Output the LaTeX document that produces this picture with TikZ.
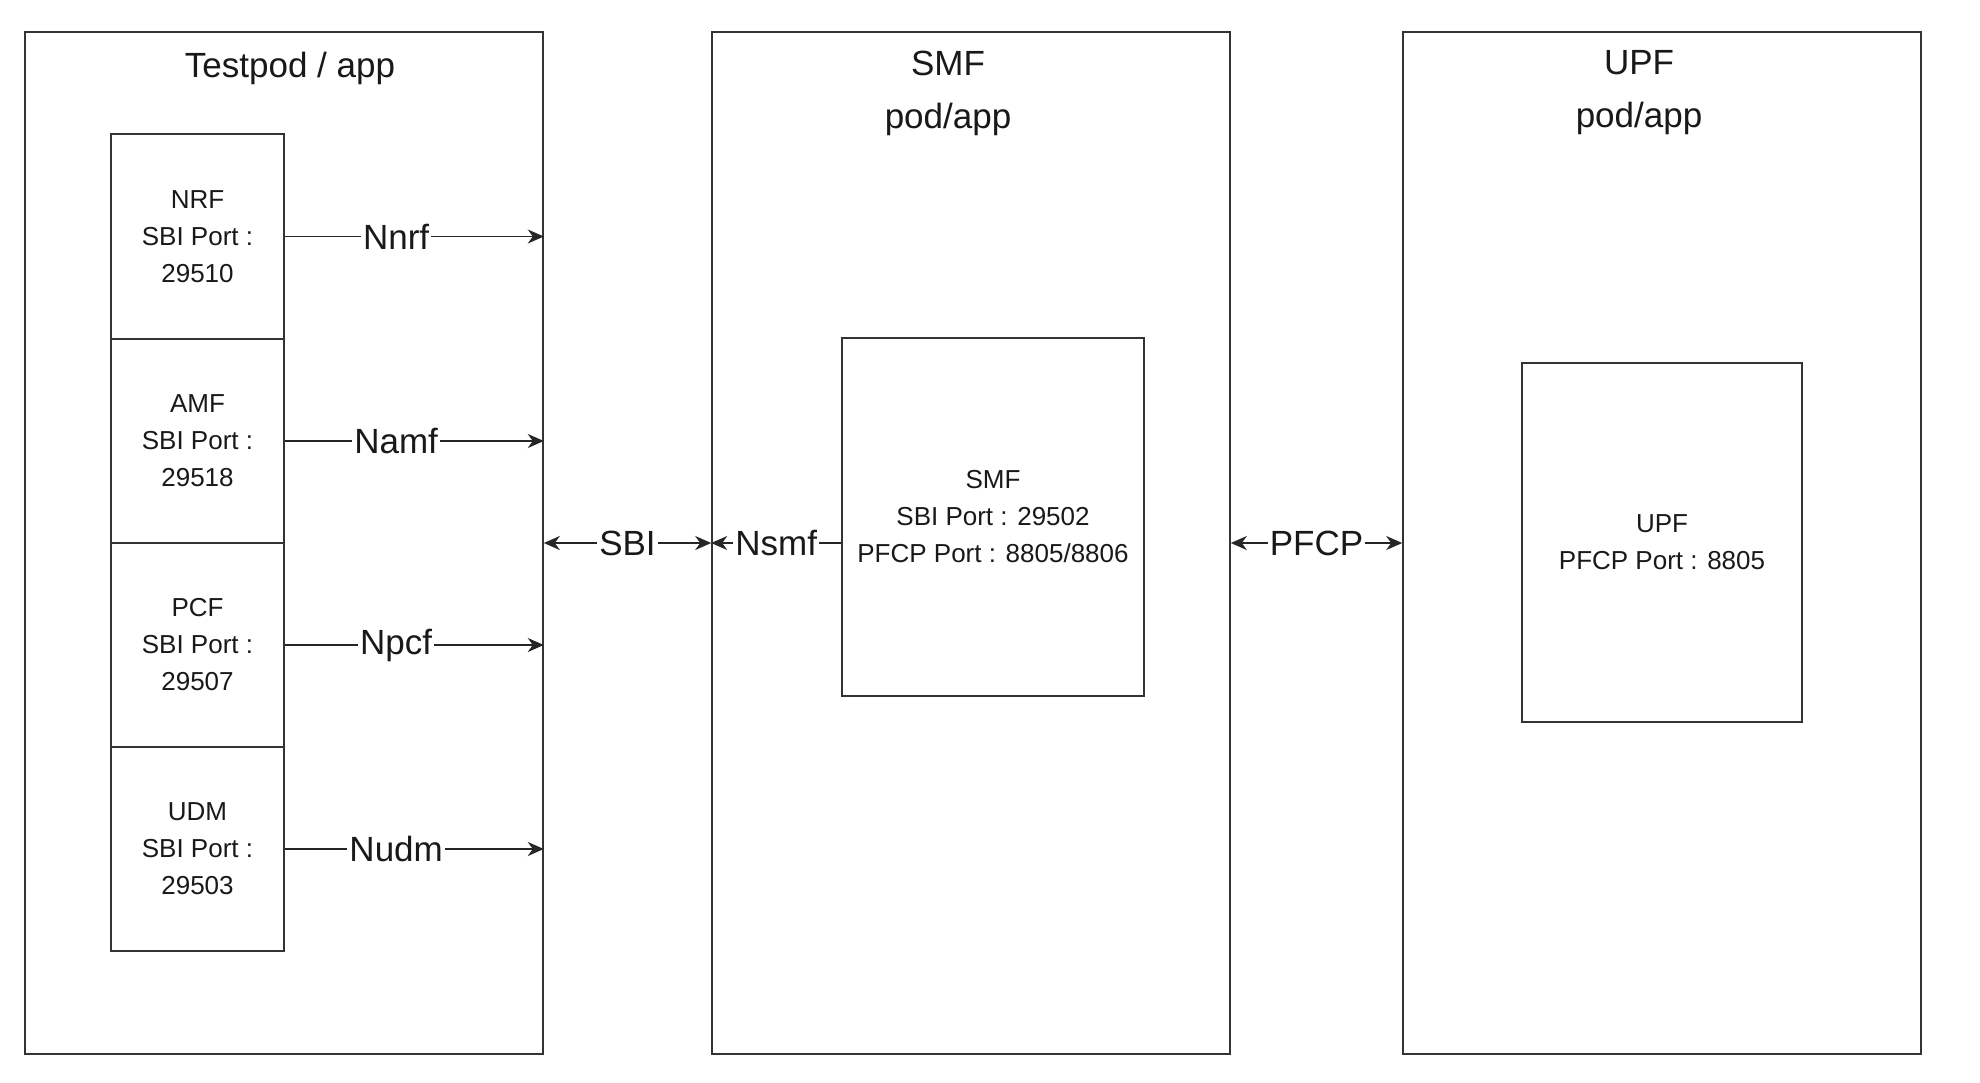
\documentclass[tikz,border=0pt]{standalone}
\usepackage{fontspec}
\setmainfont{Liberation Sans}
\usetikzlibrary{arrows.meta}
\begin{document}
\begin{tikzpicture}[x=0.5pt,y=-0.5pt,
  box/.style={draw=black!80, line width=0.8pt, rectangle, inner sep=0pt, anchor=center},
  title/.style={font=\fontsize{17.5pt}{26.5pt}\selectfont, align=center, text=black!90, inner sep=0pt},
  inner/.style={font=\fontsize{13pt}{18.5pt}\selectfont, align=center, text=black!90},
  tip/.style={Stealth[length=8pt,width=7pt,inset=2.5pt]},
  arr/.style={draw=black!85, line width=0.9pt, -{Stealth[length=8pt,width=7pt,inset=2.5pt]}},
  darr/.style={draw=black!85, line width=0.9pt, {Stealth[length=8pt,width=7pt,inset=2.5pt]}-{Stealth[length=8pt,width=7pt,inset=2.5pt]}},
  lbl/.style={font=\fontsize{17.5pt}{20pt}\selectfont, fill=white, inner sep=1pt, text=black!90}
]
\useasboundingbox[fill=white] (0,0) rectangle (1980,1082);

% outer boxes
\node[box, minimum width=259pt, minimum height=511pt] (testpod) at (284,543) {};
\node[box, minimum width=259pt, minimum height=511pt] (smf) at (971,543) {};
\node[box, minimum width=259pt, minimum height=511pt] (upf) at (1662,543) {};

% titles
\node[title] (ttest) at (290,68) {Testpod / app};
\node[title] (tsmf) at (948,93) {SMF\\pod/app};
\node[title] (tupf) at (1639,93) {UPF\\pod/app};

% testpod inner boxes
\node[box, inner, minimum width=86.5pt, minimum height=102.5pt] (nrf) at (197.5,236.5) {NRF\\SBI Port :\\29510};
\node[box, inner, minimum width=86.5pt, minimum height=102pt] (amf) at (197.5,441) {AMF\\SBI Port :\\29518};
\node[box, inner, minimum width=86.5pt, minimum height=102pt] (pcf) at (197.5,645) {PCF\\SBI Port :\\29507};
\node[box, inner, minimum width=86.5pt, minimum height=102pt] (udm) at (197.5,849) {UDM\\SBI Port :\\29503};

% SMF / UPF inner boxes
\node[box, inner, minimum width=151pt, minimum height=179pt] (smfin) at (993,517) {SMF\\SBI Port : 29502\\PFCP Port : 8805/8806};
\node[box, inner, minimum width=140pt, minimum height=179.5pt] (upfin) at (1662,542.5) {UPF\\PFCP Port : 8805};

% connectors
\draw[arr] (nrf.east) -- (nrf.east -| testpod.east) node[lbl, pos=0.43] {Nnrf};
\draw[arr] (amf.east) -- (amf.east -| testpod.east) node[lbl, pos=0.43] {Namf};
\draw[arr] (pcf.east) -- (pcf.east -| testpod.east) node[lbl, pos=0.43] {Npcf};
\draw[arr] (udm.east) -- (udm.east -| testpod.east) node[lbl, pos=0.43] {Nudm};

\draw[darr] (testpod.east) -- (smf.west) node[lbl, midway] {SBI};
\draw[arr] (smfin.west |- smf.west) -- (smf.west) node[lbl, midway] {Nsmf};
\draw[darr] (smf.east) -- (upf.west) node[lbl, midway] {PFCP};
\end{tikzpicture}
\end{document}
